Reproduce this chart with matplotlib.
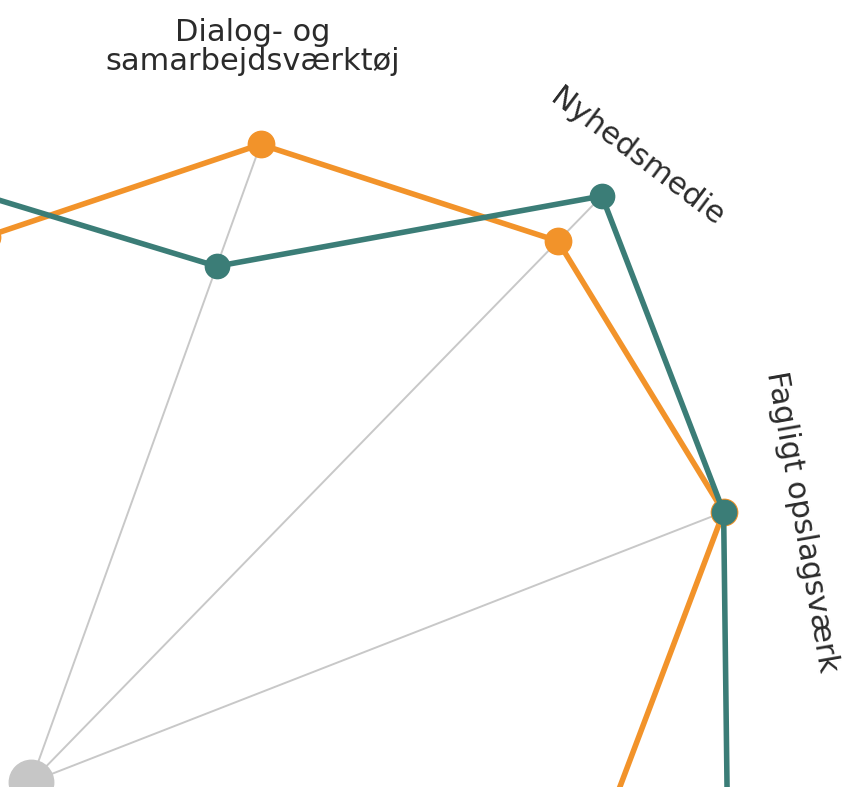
import numpy as np
import matplotlib
matplotlib.use("Agg")
import matplotlib.pyplot as plt

# ---- data (visible part of a radar chart; neighbours lie outside the crop) ----
categories = ["", "Dialog- og\nsamarbejdsværktøj", "Nyhedsmedie", "Fagligt opslagsværk", ""]
series_teal = [65.4, 60.9, 90.9, 82.6, 77.5]
series_orange = [60.8, 75.3, 83.9, 82.6, 64.4]
r_max = 100

W, H, DPI = 846, 787, 100
fig = plt.figure(figsize=(W / DPI, H / DPI), dpi=DPI)
fig.patch.set_facecolor("white")

# polar axes whose centre sits near the lower-left corner
cx, cy = 31, 782          # pixel centre (from top-left)
R = 900                    # pixel radius for r_max
ax = fig.add_axes([(cx - R) / W, (H - cy - R) / H, 2 * R / W, 2 * R / H],
                  projection="polar")
ax.set_theta_zero_location("N")
ax.set_theta_direction(-1)
ax.set_ylim(0, r_max)
ax.grid(False)
ax.set_xticks([])
ax.set_yticks([])
ax.spines["polar"].set_visible(False)
ax.patch.set_alpha(0)

start_deg, step_deg = -4.65, 24.45
theta = np.deg2rad(start_deg + step_deg * np.arange(len(categories)))

teal = "#3B7D77"
orange = "#F2932A"
grey = "#C8C8C8"

# spokes (only for the labelled categories) up to the larger value
for t, a, b, name in zip(theta, series_teal, series_orange, categories):
    if name:
        ax.plot([t, t], [0, max(a, b)], color=grey, lw=1.4, zorder=1,
                solid_capstyle="butt")

ax.plot(theta, series_orange, color=orange, lw=4, marker="o", ms=19,
        zorder=3, solid_joinstyle="miter")
ax.plot(theta, series_teal, color=teal, lw=4, marker="o", ms=17.5,
        zorder=4, solid_joinstyle="miter")
ax.plot([0], [0], marker="o", ms=32, color="#C6C6C6", zorder=5, clip_on=False)

font = dict(family=["DejaVu Sans"], color="#2b2b2b", fontsize=22)

def ftext(px, py, s, rot=0, **kw):
    fig.text(px / W, 1 - py / H, s, ha="center", va="center",
             rotation=rot, rotation_mode="anchor", linespacing=1.0, **font, **kw)

ftext(253, 47, categories[1])
ftext(637, 157, categories[2], rot=-37)
ftext(802, 522, categories[3], rot=-80)

fig.savefig("out.png", dpi=DPI, facecolor="white")
